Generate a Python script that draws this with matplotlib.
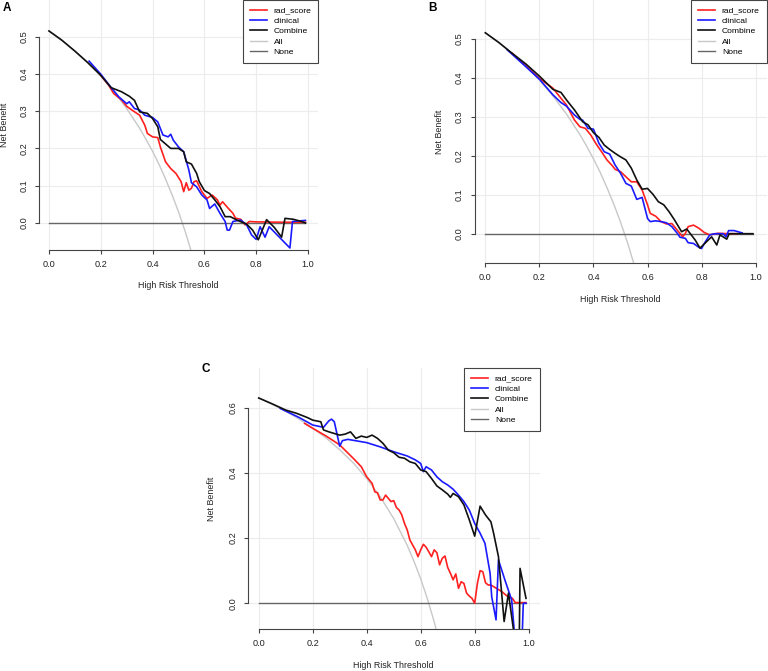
import matplotlib
matplotlib.use("Agg")
import matplotlib.pyplot as plt
from matplotlib.ticker import FormatStrFormatter

plt.rcParams['font.family'] = ['Liberation Sans', 'DejaVu Sans']

# ---- data ----
xticks = [0.0, 0.2, 0.4, 0.6, 0.8, 1.0]
none_x = [0.0, 0.99]
none_y = [0.0, 0.0]

# panel A / B share the "treat all" curve
all_ab_x = [0, 0.05, 0.1, 0.15, 0.2, 0.25, 0.3, 0.35, 0.375, 0.4, 0.425, 0.45, 0.475, 0.5, 0.525, 0.55]
all_ab_y = [0.515, 0.49, 0.461, 0.429, 0.394, 0.353, 0.307, 0.254, 0.224, 0.192, 0.157, 0.118, 0.076, 0.030, -0.021, -0.078]

a_rad_x = [0.19, 0.2, 0.23, 0.25, 0.28, 0.3, 0.32, 0.35, 0.37, 0.38, 0.4, 0.42, 0.43, 0.45, 0.47, 0.49, 0.51, 0.52, 0.53,
           0.54, 0.55, 0.56, 0.57, 0.59, 0.61, 0.63, 0.65, 0.66, 0.67, 0.69, 0.71, 0.72, 0.74, 0.757, 0.773, 0.8, 0.9, 0.99]
a_rad_y = [0.405, 0.396, 0.37, 0.347, 0.33, 0.313, 0.303, 0.289, 0.262, 0.24, 0.231, 0.229, 0.204, 0.164, 0.146, 0.133,
           0.111, 0.084, 0.108, 0.088, 0.093, 0.111, 0.113, 0.084, 0.066, 0.075, 0.062, 0.048, 0.057, 0.041, 0.026,
           0.013, 0.010, -0.005, 0.004, 0.003, 0.002, 0.002]
a_cli_x = [0.155, 0.2, 0.24, 0.27, 0.3, 0.31, 0.33, 0.35, 0.37, 0.4, 0.42, 0.44, 0.46, 0.47, 0.48, 0.5, 0.52, 0.54, 0.55,
           0.57, 0.59, 0.61, 0.62, 0.64, 0.66, 0.68, 0.688, 0.697, 0.71, 0.74, 0.763, 0.782, 0.80, 0.815, 0.834, 0.85,
           0.93, 0.94, 0.99]
a_cli_y = [0.434, 0.399, 0.363, 0.338, 0.32, 0.325, 0.307, 0.303, 0.289, 0.283, 0.271, 0.236, 0.231, 0.238, 0.222, 0.204,
           0.191, 0.142, 0.108, 0.097, 0.075, 0.062, 0.039, 0.051, 0.026, 0.004, -0.019, -0.019, 0.004, 0.008, -0.005,
           -0.032, -0.044, -0.01, -0.038, -0.01, -0.067, 0.004, 0.007]
a_com_x = [0.0, 0.05, 0.1, 0.15, 0.2, 0.24, 0.28, 0.31, 0.33, 0.35, 0.38, 0.4, 0.42, 0.43, 0.45, 0.47, 0.5, 0.52, 0.53,
           0.55, 0.57, 0.58, 0.6, 0.62, 0.64, 0.66, 0.68, 0.7, 0.725, 0.763, 0.786, 0.808, 0.84, 0.87, 0.898, 0.911,
           0.943, 0.975, 0.99]
a_com_y = [0.515, 0.49, 0.461, 0.43, 0.396, 0.363, 0.352, 0.340, 0.329, 0.298, 0.294, 0.28, 0.258, 0.224, 0.212, 0.2,
           0.2, 0.191, 0.164, 0.158, 0.133, 0.111, 0.087, 0.079, 0.062, 0.044, 0.017, 0.017, 0.008, -0.003, -0.019,
           -0.045, 0.009, -0.012, -0.038, 0.0125, 0.01, 0.004, 0.0]

b_rad_x = [0.1, 0.15, 0.2, 0.25, 0.28, 0.3, 0.33, 0.35, 0.37, 0.39, 0.41, 0.43, 0.45, 0.47, 0.48, 0.5, 0.52, 0.54, 0.56,
           0.58, 0.6, 0.61, 0.63, 0.65, 0.67, 0.69, 0.71, 0.73, 0.74, 0.75, 0.77, 0.79, 0.81, 0.83, 0.86, 0.9, 0.93]
b_rad_y = [0.462, 0.43, 0.398, 0.373, 0.347, 0.33, 0.291, 0.274, 0.27, 0.253, 0.23, 0.21, 0.189, 0.174, 0.165, 0.159,
           0.146, 0.133, 0.133, 0.112, 0.074, 0.052, 0.045, 0.031, 0.025, 0.026, 0.009, -0.008, 0.001, 0.018, 0.022,
           0.014, 0.003, -0.003, 0.001, 0.0, 0.0]
b_cli_x = [0.08, 0.15, 0.2, 0.25, 0.28, 0.3, 0.33, 0.35, 0.36, 0.38, 0.4, 0.42, 0.44, 0.46, 0.48, 0.5, 0.52, 0.54, 0.56,
           0.58, 0.6, 0.61, 0.63, 0.65, 0.67, 0.69, 0.71, 0.72, 0.74, 0.75, 0.77, 0.79, 0.8, 0.81, 0.83, 0.85, 0.88,
           0.89, 0.9, 0.92, 0.95]
b_cli_y = [0.472, 0.428, 0.396, 0.356, 0.336, 0.327, 0.304, 0.293, 0.291, 0.27, 0.268, 0.232, 0.21, 0.204, 0.176, 0.155,
           0.129, 0.122, 0.088, 0.093, 0.039, 0.031, 0.033, 0.031, 0.028, 0.018, 0.001, -0.009, -0.012, -0.023, -0.025,
           -0.035, -0.038, -0.025, -0.003, 0.0, 0.0, -0.008, 0.008, 0.008, 0.002]
b_com_x = [0.0, 0.05, 0.1, 0.15, 0.2, 0.25, 0.28, 0.3, 0.33, 0.36, 0.38, 0.4, 0.42, 0.44, 0.46, 0.48, 0.5, 0.52, 0.54,
           0.56, 0.58, 0.6, 0.62, 0.64, 0.66, 0.68, 0.7, 0.726, 0.745, 0.776, 0.794, 0.825, 0.837, 0.856, 0.868, 0.893,
           0.902, 0.95, 0.99]
b_com_y = [0.515, 0.49, 0.462, 0.435, 0.404, 0.37, 0.362, 0.343, 0.317, 0.287, 0.279, 0.259, 0.247, 0.227, 0.216, 0.206,
           0.197, 0.189, 0.168, 0.138, 0.114, 0.116, 0.101, 0.082, 0.074, 0.056, 0.035, 0.005, 0.012, -0.016, -0.037,
           -0.016, -0.008, -0.029, -0.003, -0.014, 0.0, 0.0, 0.0]

all_c_x = [0, 0.05, 0.1, 0.15, 0.2, 0.25, 0.3, 0.35, 0.4, 0.45, 0.5, 0.55, 0.575, 0.6, 0.625, 0.65, 0.675]
all_c_y = [0.63, 0.61, 0.589, 0.565, 0.5375, 0.507, 0.471, 0.431, 0.383, 0.327, 0.26, 0.178, 0.129, 0.075, 0.013,
           -0.057, -0.138]
c_rad_x = [0.17, 0.2, 0.25, 0.3, 0.35, 0.38, 0.4, 0.42, 0.43, 0.44, 0.45, 0.46, 0.47, 0.48, 0.49, 0.5, 0.51, 0.52, 0.53,
           0.54, 0.55, 0.56, 0.57, 0.58, 0.59, 0.6, 0.61, 0.62, 0.63, 0.64, 0.65, 0.66, 0.67, 0.68, 0.69, 0.7, 0.71,
           0.72, 0.73, 0.74, 0.75, 0.76, 0.77, 0.78, 0.79, 0.8, 0.81, 0.82, 0.83, 0.84, 0.85, 0.86, 0.87, 0.88, 0.9,
           0.92, 0.94, 0.95, 0.99]
c_rad_y = [0.552, 0.537, 0.513, 0.486, 0.445, 0.419, 0.388, 0.368, 0.342, 0.339, 0.317, 0.317, 0.332, 0.322, 0.312,
           0.315, 0.294, 0.286, 0.271, 0.245, 0.225, 0.194, 0.179, 0.164, 0.143, 0.164, 0.181, 0.172, 0.158, 0.143,
           0.164, 0.155, 0.118, 0.138, 0.145, 0.11, 0.092, 0.072, 0.09, 0.046, 0.066, 0.061, 0.031, 0.022, 0.015, 0.0,
           0.061, 0.1, 0.097, 0.063, 0.056, 0.056, 0.051, 0.046, 0.036, 0.022, 0.015, 0.002, 0.002]
c_cli_x = [0.08, 0.15, 0.2, 0.24, 0.26, 0.27, 0.28, 0.3, 0.31, 0.33, 0.4, 0.45, 0.5, 0.55, 0.58, 0.6, 0.61, 0.62, 0.64,
           0.66, 0.68, 0.7, 0.72, 0.74, 0.76, 0.78, 0.8, 0.82, 0.838, 0.857, 0.863, 0.879, 0.888, 0.912, 0.937, 0.95,
           0.975, 0.98, 0.99]
c_cli_y = [0.598, 0.57, 0.547, 0.54, 0.56, 0.565, 0.557, 0.482, 0.499, 0.503, 0.493, 0.48, 0.465, 0.452, 0.44, 0.429,
           0.404, 0.419, 0.409, 0.388, 0.373, 0.363, 0.35, 0.332, 0.312, 0.286, 0.245, 0.215, 0.184, 0.092, 0.02,
           -0.051, 0.133, 0.071, 0.01, -0.12, -0.12, 0.0, 0.0]
c_com_x = [0.0, 0.05, 0.1, 0.14, 0.18, 0.2, 0.23, 0.24, 0.26, 0.3, 0.32, 0.34, 0.36, 0.38, 0.4, 0.42, 0.44, 0.46, 0.48,
           0.5, 0.52, 0.54, 0.56, 0.58, 0.6, 0.62, 0.64, 0.66, 0.68, 0.7, 0.71, 0.72, 0.74, 0.76, 0.78, 0.8, 0.82, 0.84,
           0.86, 0.87, 0.888, 0.909, 0.925, 0.95, 0.965, 0.968, 0.99]
c_com_y = [0.63, 0.612, 0.593, 0.583, 0.570, 0.562, 0.557, 0.532, 0.526, 0.516, 0.519, 0.526, 0.506, 0.513, 0.509,
           0.516, 0.506, 0.491, 0.47, 0.462, 0.448, 0.445, 0.434, 0.429, 0.409, 0.404, 0.383, 0.36, 0.348, 0.335,
           0.325, 0.337, 0.327, 0.302, 0.256, 0.206, 0.298, 0.271, 0.25, 0.215, 0.143, -0.056, 0.031, -0.12, -0.12,
           0.107, 0.015]

W, H = 768, 671
fig = plt.figure(figsize=(W / 100, H / 100), dpi=100)


def px_rect(left, top, right, bottom):
    return [left / W, 1 - bottom / H, (right - left) / W, (bottom - top) / H]


def panel(rect, ylim, yticks, curves, all_xy, letter, letter_pos, ylab_x):
    ax = fig.add_axes(rect)
    ax.set_xlim(-0.04, 1.04)
    ax.set_ylim(ylim)
    ax.set_xticks(xticks)
    ax.set_yticks(yticks)
    ax.grid(True, color='#ececec', lw=0.8)
    ax.set_axisbelow(True)
    for s in ['top', 'right']:
        ax.spines[s].set_visible(False)
    ax.spines['left'].set_bounds(0, yticks[-1])
    ax.spines['bottom'].set_bounds(0, 1)
    for s in ['left', 'bottom']:
        ax.spines[s].set_color('#444444')
        ax.spines[s].set_linewidth(0.8)
    ax.xaxis.set_major_formatter(FormatStrFormatter('%.1f'))
    ax.yaxis.set_major_formatter(FormatStrFormatter('%.1f'))
    ax.tick_params(length=3, width=0.8, color='#444444', labelsize=6.6, labelcolor='#222222')
    ax.tick_params(axis='x', pad=4.5)
    ax.tick_params(axis='y', pad=4.5, labelrotation=90)
    for lbl in ax.get_yticklabels():
        lbl.set_va('center')

    ax.plot(all_xy[0], all_xy[1], color='#c8c8c8', lw=1.0, label='All', zorder=2)
    ax.plot(none_x, none_y, color='#666666', lw=1.0, label='None', zorder=2)
    (rx, ry), (cx, cy), (kx, ky) = curves
    ax.plot(rx, ry, color='#ff2020', lw=1.2, label='rad_score', zorder=3)
    ax.plot(cx, cy, color='#1a1aff', lw=1.2, label='clinical', zorder=3)
    ax.plot(kx, ky, color='#111111', lw=1.2, label='Combine', zorder=4)

    h, l = ax.get_legend_handles_labels()
    order = [2, 3, 4, 0, 1]
    leg = ax.legend([h[i] for i in order], [l[i] for i in order], loc='upper right',
                    bbox_to_anchor=(1, 1), borderaxespad=0, fontsize=6.1, fancybox=False,
                    edgecolor='#444444', framealpha=1, handlelength=2.0, handletextpad=0.8,
                    labelspacing=0.28, borderpad=0.8)
    leg.get_frame().set_linewidth(0.8)

    bb = ax.get_position()
    x0 = bb.x0 * W + (0 - (-0.04)) / 1.08 * bb.width * W
    x1 = bb.x0 * W + (1 + 0.04) / 1.08 * bb.width * W
    bottom_px = (1 - bb.y0) * H
    top_px = (1 - bb.y1) * H
    fig.text((x0 + x1) / 2 / W, 1 - (bottom_px + 36) / H, 'High Risk Threshold',
             ha='center', va='center', fontsize=6.4, color='#222222')
    fig.text(ylab_x / W, 1 - (top_px + bottom_px) / 2 / H, 'Net Benefit', rotation=90,
             ha='center', va='center', fontsize=6.4, color='#222222')
    fig.text(letter_pos[0] / W, 1 - letter_pos[1] / H, letter, fontsize=8.5, weight='bold',
             ha='left', va='top')
    return ax


panel(px_rect(38.6, 0, 318.4, 250), (-0.0724, 0.598), [0.0, 0.1, 0.2, 0.3, 0.4, 0.5],
      [(a_rad_x, a_rad_y), (a_cli_x, a_cli_y), (a_com_x, a_com_y)], (all_ab_x, all_ab_y),
      'A', (3, 2), 5)
panel(px_rect(474.5, 0, 766.5, 263), (-0.0751, 0.599), [0.0, 0.1, 0.2, 0.3, 0.4, 0.5],
      [(b_rad_x, b_rad_y), (b_cli_x, b_cli_y), (b_com_x, b_com_y)], (all_ab_x, all_ab_y),
      'B', (428, 2), 439)
panel(px_rect(247.9, 368, 539.5, 629), (-0.079, 0.722), [0.0, 0.2, 0.4, 0.6],
      [(c_rad_x, c_rad_y), (c_cli_x, c_cli_y), (c_com_x, c_com_y)], (all_c_x, all_c_y),
      'C', (202, 363), 212)

fig.savefig('out.png', dpi=100)
